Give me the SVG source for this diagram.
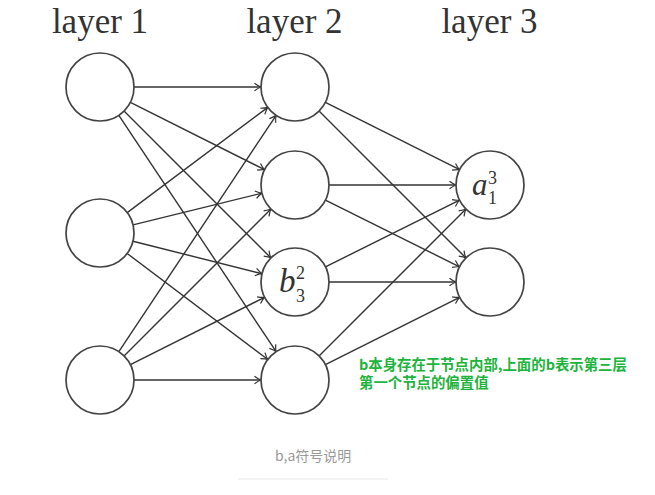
<svg xmlns="http://www.w3.org/2000/svg" width="655" height="495" viewBox="0 0 655 495">
<style>
.node{fill:#fff;stroke:#444;stroke-width:1.7}
.edge{stroke:#333;stroke-width:1.4;fill:none;marker-end:url(#arr)}
.lbl{font-family:"Liberation Serif","DejaVu Serif",serif;font-size:35px;fill:#333}
.m{font-family:"Liberation Serif","DejaVu Serif",serif;font-style:italic;fill:#333}
.d{font-family:"Liberation Serif","DejaVu Serif",serif;fill:#333;font-size:18px}
.note{font-family:"Noto Sans CJK SC",sans-serif;font-size:14.4px;font-weight:bold;fill:#1db33d}
.cap{font-family:"Noto Sans CJK SC",sans-serif;font-size:14px;fill:#999}
</style>
<defs>
<marker id="arr" markerWidth="12" markerHeight="10" viewBox="-8 -5 10 10" refX="0" refY="0" orient="auto" markerUnits="userSpaceOnUse">
<path d="M-6.5,-3.8 Q-2.5,-0.8 0,0 Q-2.5,0.8 -6.5,3.8" fill="none" stroke="#333" stroke-width="1.2"/>
</marker>
</defs>
<rect width="655" height="495" fill="#fff"/>
<g id="labels">
<text class="lbl" x="100" y="33" text-anchor="middle">layer 1</text>
<text class="lbl" x="294.5" y="33" text-anchor="middle">layer 2</text>
<text class="lbl" x="489.5" y="33" text-anchor="middle">layer 3</text>
</g>
<g id="connectors">
<line class="edge" x1="134" y1="87" x2="261" y2="87"/>
<line class="edge" x1="130.38" y1="102.27" x2="264.62" y2="169.73"/>
<line class="edge" x1="124.04" y1="111.04" x2="270.96" y2="257.96"/>
<line class="edge" x1="118.84" y1="115.30" x2="276.16" y2="351.70"/>
<line class="edge" x1="127.22" y1="212.62" x2="267.78" y2="107.38"/>
<line class="edge" x1="133.01" y1="224.87" x2="261.99" y2="193.13"/>
<line class="edge" x1="132.98" y1="241.29" x2="262.02" y2="273.71"/>
<line class="edge" x1="127.15" y1="253.47" x2="267.85" y2="359.53"/>
<line class="edge" x1="118.84" y1="351.70" x2="276.16" y2="115.30"/>
<line class="edge" x1="124.04" y1="355.96" x2="270.96" y2="209.04"/>
<line class="edge" x1="130.38" y1="364.73" x2="264.62" y2="297.27"/>
<line class="edge" x1="134" y1="380" x2="261" y2="380"/>
<line class="edge" x1="325.38" y1="102.27" x2="459.62" y2="169.73"/>
<line class="edge" x1="319.04" y1="111.04" x2="465.96" y2="257.96"/>
<line class="edge" x1="329" y1="185" x2="456" y2="185"/>
<line class="edge" x1="325.44" y1="200.14" x2="459.56" y2="266.86"/>
<line class="edge" x1="325.44" y1="266.86" x2="459.56" y2="200.14"/>
<line class="edge" x1="329" y1="282" x2="456" y2="282"/>
<line class="edge" x1="319.04" y1="355.96" x2="465.96" y2="209.04"/>
<line class="edge" x1="325.38" y1="364.73" x2="459.62" y2="297.27"/>
</g>
<g id="n11"><circle class="node" cx="100" cy="87" r="34"/></g>
<g id="n12"><circle class="node" cx="100" cy="233" r="34"/></g>
<g id="n13"><circle class="node" cx="100" cy="380" r="34"/></g>
<g id="n21"><circle class="node" cx="295" cy="87" r="34"/></g>
<g id="n22"><circle class="node" cx="295" cy="185" r="34"/></g>
<g id="n23"><circle class="node" cx="295" cy="282" r="34"/>
<text class="m" x="279" y="292" font-size="33">b</text>
<text class="d" x="296" y="279">2</text>
<text class="d" x="296" y="302">3</text>
</g>
<g id="n24"><circle class="node" cx="295" cy="380" r="34"/></g>
<g id="n31"><circle class="node" cx="490" cy="185" r="34"/>
<text class="m" x="472" y="195" font-size="31">a</text>
<text class="d" x="488" y="184">3</text>
<text class="d" x="488" y="204">1</text>
</g>
<g id="n32"><circle class="node" cx="490" cy="282" r="34"/></g>
<g id="note">
<text class="note" x="359" y="370">b本身存在于节点内部,上面的b表示第三层</text>
<text class="note" x="359" y="388">第一个节点的偏置值</text>
</g>
<g id="caption">
<text class="cap" x="275" y="461">b,a符号说明</text>
<line x1="238" y1="479" x2="388" y2="479" stroke="#e8e8e8" stroke-width="1"/>
</g>
</svg>
